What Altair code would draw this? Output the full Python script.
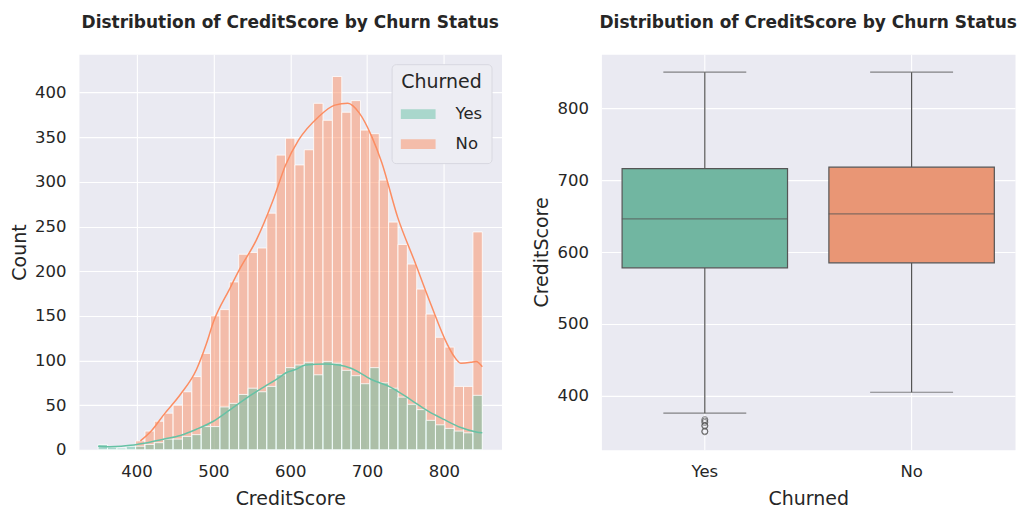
import altair as alt
import pandas as pd

# ---------------- data ----------------
# Left panel: layered histogram of CreditScore (41 equal bins between 350 and 850)
BIN_MIN = 350
BIN_MAX = 850
N_BINS = 41
NO_COUNTS = [0, 0, 0, 0, 10, 21, 32, 41, 50, 65, 82,
             108, 150, 157, 188, 219, 221, 226, 265, 330, 349,
             319, 336, 388, 369, 418, 378, 391, 358, 354, 302,
             255, 230, 208, 180, 152, 126, 115, 71, 71, 244]
YES_COUNTS = [6, 3, 2, 4, 4, 6, 8, 12, 12, 15, 17,
              26, 26, 48, 52, 62, 69, 65, 71, 84, 92,
              95, 98, 84, 99, 97, 89, 83, 74, 92, 75,
              69, 59, 51, 45, 33, 28, 24, 21, 19, 61]

# KDE curves (scaled to counts), read point by point
NO_KDE_X = [405, 420, 436, 457, 478, 491, 500, 521, 534, 556, 577, 594, 611, 637,
            658, 675, 690, 706, 719, 740, 761, 783, 804, 813, 822, 835, 842, 850]
NO_KDE_Y = [10, 22, 40, 62, 90, 119, 143, 180, 202, 235, 278, 319, 347, 373,
            386, 388, 377, 351, 322, 260, 213, 163, 119, 105, 97, 98, 99, 93]
YES_KDE_X = [350, 365, 380, 392, 414, 436, 457, 478, 500, 522, 543, 565, 586, 594,
             607, 620, 646, 663, 680, 705, 731, 757, 780, 800, 822, 842, 850]
YES_KDE_Y = [4, 3.5, 4, 5, 8, 12, 16, 23, 32, 45, 58, 70, 81, 86,
             90, 95, 96, 95, 91, 79, 70, 56, 43, 34, 25, 20, 19]

# Right panel: box plot summary per group
BOX_GROUPS = ["Yes", "No"]
WHISKER_LOW = [376, 405]
Q1 = [578, 585]
MEDIAN = [646, 653]
Q3 = [716, 718]
WHISKER_HIGH = [850, 850]
OUTLIER_GROUP = ["Yes", "Yes", "Yes", "Yes", "Yes", "Yes", "Yes"]
OUTLIER_VALUES = [350, 351, 358, 359, 363, 365, 367]

TITLE = "Distribution of CreditScore by Churn Status"
X_TICKS_LEFT = [400, 500, 600, 700, 800]
Y_TICKS_LEFT = [0, 50, 100, 150, 200, 250, 300, 350, 400]
Y_TICKS_RIGHT = [400, 500, 600, 700, 800]

# ---------------- styling ----------------
FONT = "DejaVu Sans"
TXT = "#262626"
BG = "#EAEAF2"
GREEN = "#66c2a5"
ORANGE = "#fc8d62"
BOX_GREEN = "#71B6A1"
BOX_ORANGE = "#E99675"
GRAY = "#555555"

# ---------------- tables ----------------
edges = [BIN_MIN + i * (BIN_MAX - BIN_MIN) / N_BINS for i in range(N_BINS + 1)]
hist_df = pd.DataFrame({
    "bin_start": edges[:-1] + edges[:-1],
    "bin_end": edges[1:] + edges[1:],
    "Count": NO_COUNTS + YES_COUNTS,
    "Churned": ["No"] * N_BINS + ["Yes"] * N_BINS,
})
kde_df = pd.DataFrame({
    "CreditScore": NO_KDE_X + YES_KDE_X,
    "Density": NO_KDE_Y + YES_KDE_Y,
    "Churned": ["No"] * len(NO_KDE_X) + ["Yes"] * len(YES_KDE_X),
})
box_df = pd.DataFrame({
    "Churned": BOX_GROUPS,
    "Group": BOX_GROUPS,
    "low": WHISKER_LOW,
    "q1": Q1,
    "median": MEDIAN,
    "q3": Q3,
    "high": WHISKER_HIGH,
})
out_df = pd.DataFrame({"Churned": OUTLIER_GROUP, "CreditScore": OUTLIER_VALUES})

# ---------------- left panel ----------------
x_scale_l = alt.Scale(domain=[325, 875], nice=False, zero=False)
y_scale_l = alt.Scale(domain=[0, 443], nice=False)
x_axis_l = alt.Axis(values=X_TICKS_LEFT, title="CreditScore")
y_axis_l = alt.Axis(values=Y_TICKS_LEFT, title="Count")

legend = alt.Legend(
    title="Churned",
    orient="none",
    legendX=313,
    legendY=10,
    titleFontSize=19,
    titleFontWeight="normal",
    titleColor=TXT,
    titleAnchor="middle",
    titlePadding=12,
    labelFontSize=16.5,
    labelColor=TXT,
    labelOffset=20,
    symbolType="M-1,-0.28H1V0.28H-1Z",
    symbolSize=1225,
    symbolOpacity=0.5,
    symbolStrokeWidth=0,
    clipHeight=20,
    rowPadding=10,
    padding=9,
    fillColor="#EDEDF3",
    strokeColor="#D8D8E0",
    cornerRadius=4,
)
color_l = alt.Color("Churned:N", scale=alt.Scale(domain=["Yes", "No"], range=[GREEN, ORANGE]), legend=legend)


def hist_layer(group):
    return alt.Chart(hist_df).transform_filter(alt.datum.Churned == group).mark_bar(
        fillOpacity=0.5, stroke="white", strokeWidth=0.8
    ).encode(
        x=alt.X("bin_start:Q", scale=x_scale_l, axis=x_axis_l),
        x2="bin_end:Q",
        y=alt.Y("Count:Q", scale=y_scale_l, axis=y_axis_l, stack=None),
        y2=alt.datum(0),
        color=color_l,
    )


def kde_layer(group, col):
    return alt.Chart(kde_df).transform_filter(alt.datum.Churned == group).mark_line(
        color=col, strokeWidth=1.5, interpolate="monotone"
    ).encode(
        x=alt.X("CreditScore:Q", scale=x_scale_l, axis=x_axis_l),
        y=alt.Y("Density:Q", scale=y_scale_l, axis=y_axis_l),
    )


left = alt.layer(
    hist_layer("No"), hist_layer("Yes"), kde_layer("No", ORANGE), kde_layer("Yes", GREEN)
).properties(width=423, height=396, title=TITLE)

# ---------------- right panel ----------------
x_r = alt.X(
    "Churned:N",
    scale=alt.Scale(domain=BOX_GROUPS, paddingInner=0.2, paddingOuter=0.1),
    axis=alt.Axis(title="Churned", labelAngle=0, bandPosition=0.5, grid=True),
)
y_scale_r = alt.Scale(domain=[325, 875], nice=False, zero=False)
y_axis_r = alt.Axis(values=Y_TICKS_RIGHT, title="CreditScore")

base_box = alt.Chart(box_df)
whisk_lo = base_box.mark_rule(color=GRAY, strokeWidth=1.2).encode(
    x=x_r, y=alt.Y("low:Q", scale=y_scale_r, axis=y_axis_r), y2="q1:Q")
whisk_hi = base_box.mark_rule(color=GRAY, strokeWidth=1.2).encode(
    x=x_r, y=alt.Y("q3:Q", scale=y_scale_r, axis=y_axis_r), y2="high:Q")
box = base_box.mark_bar(stroke=GRAY, strokeWidth=1.2).encode(
    x=x_r,
    y=alt.Y("q1:Q", scale=y_scale_r, axis=y_axis_r),
    y2="q3:Q",
    color=alt.Color("Group:N", scale=alt.Scale(domain=BOX_GROUPS, range=[BOX_GREEN, BOX_ORANGE]), legend=None),
)
med = base_box.mark_tick(color=GRAY, size=166, thickness=1.3).encode(
    x=x_r, y=alt.Y("median:Q", scale=y_scale_r, axis=y_axis_r))
cap_lo = base_box.mark_tick(color=GRAY, size=83, thickness=1.2).encode(
    x=x_r, y=alt.Y("low:Q", scale=y_scale_r, axis=y_axis_r))
cap_hi = base_box.mark_tick(color=GRAY, size=83, thickness=1.2).encode(
    x=x_r, y=alt.Y("high:Q", scale=y_scale_r, axis=y_axis_r))
outl = alt.Chart(out_df).mark_point(shape="circle", filled=False, color=GRAY, size=36, strokeWidth=1).encode(
    x=x_r, y=alt.Y("CreditScore:Q", scale=y_scale_r, axis=y_axis_r))

right = alt.layer(whisk_lo, whisk_hi, box, med, cap_lo, cap_hi, outl).properties(
    width=414, height=396, title=TITLE
)

chart = alt.hconcat(left, right, spacing=30).resolve_scale(color="independent").properties(
    padding={"left": 2, "top": 5, "right": 0, "bottom": 0}
).configure(
    font=FONT, background="white"
).configure_view(
    fill=BG, stroke="transparent"
).configure_axis(
    domain=False, ticks=False, tickSize=0, grid=True, gridColor="white", gridWidth=1.1,
    labelFont=FONT, labelFontSize=16.5, labelColor=TXT,
    titleFont=FONT, titleFontSize=19, titleFontWeight="normal", titleColor=TXT,
).configure_axisLeft(
    labelPadding=13, titlePadding=5
).configure_axisBottom(
    labelPadding=14, titlePadding=9
).configure_title(
    font=FONT, fontSize=17, fontWeight="bold", color=TXT, anchor="middle",
    baseline="bottom", offset=22
)

chart.save("out.html", embed_options={"renderer": "svg", "actions": False})
